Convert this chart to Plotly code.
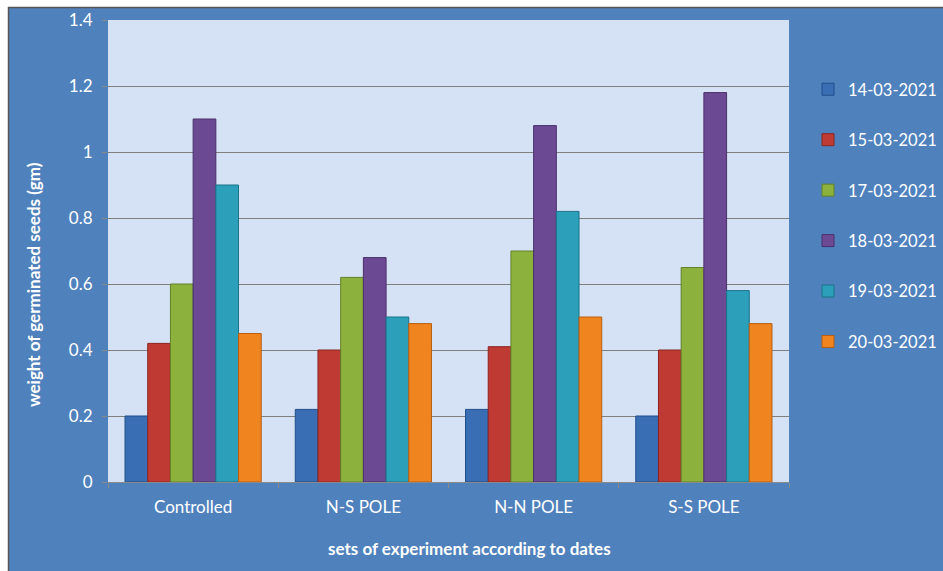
import plotly.graph_objects as go

categories = ["Controlled", "N-S POLE", "N-N POLE", "S-S POLE"]
dates = ["14-03-2021", "15-03-2021", "17-03-2021", "18-03-2021", "19-03-2021", "20-03-2021"]

w_14 = [0.20, 0.22, 0.22, 0.20]
w_15 = [0.42, 0.40, 0.41, 0.40]
w_17 = [0.60, 0.62, 0.70, 0.65]
w_18 = [1.10, 0.68, 1.08, 1.18]
w_19 = [0.90, 0.50, 0.82, 0.58]
w_20 = [0.45, 0.48, 0.50, 0.48]

series = [w_14, w_15, w_17, w_18, w_19, w_20]
fills = ["#3a6eb4", "#be3a33", "#8db13d", "#6c4a93", "#2c9fba", "#f0841f"]
edges = ["#1f4f8a", "#8c2420", "#62822a", "#4a2f6b", "#1b7389", "#b85e12"]

BG = "#4f81bd"
FONT = "Lato, 'Open Sans', sans-serif"

# canvas geometry (px) used to place paper-referenced decorations
W, H = 943, 571
ML, MR, MT, MB = 108, 154, 20, 89
PW, PH = W - ML - MR, H - MT - MB


def px(x):
    return (x - ML) / PW


def py(y):
    return (H - MB - y) / PH


fig = go.Figure()
for name, vals, fc, ec in zip(dates, series, fills, edges):
    fig.add_trace(go.Bar(
        x=categories, y=vals, name=name, legendgroup=name,
        marker=dict(color=fc, line=dict(color=ec, width=1)),
    ))

fig.update_layout(
    width=W, height=H,
    margin=dict(l=ML, r=MR, t=MT, b=MB, autoexpand=False),
    paper_bgcolor=BG,
    plot_bgcolor="#d5e1f4",
    barmode="group", bargap=0.2, bargroupgap=0.0,
    font=dict(family=FONT, color="white", size=17),
    legend=dict(
        x=px(808), y=py(72), xanchor="left", yanchor="top",
        font=dict(size=16.5, color="white"),
        tracegroupgap=26, itemwidth=30,
        bgcolor="rgba(0,0,0,0)",
    ),
    xaxis=dict(
        showgrid=False, ticks="outside", tickson="boundaries",
        ticklen=5, tickcolor="#8a8a8a", showline=True,
        linecolor="#8a8a8a", linewidth=1,
        tickfont=dict(size=17, color="white"),
        ticklabelstandoff=10,
    ),
    yaxis=dict(
        range=[0, 1.4], dtick=0.2, tickformat="~g",
        showgrid=True, gridcolor="#7f7f7f", gridwidth=1,
        zeroline=False, ticks="outside", ticklen=5, tickcolor="#8a8a8a",
        tickfont=dict(size=17, color="white"),
        ticklabelstandoff=6,
    ),
    annotations=[
        dict(text="<b>sets of experiment according to dates</b>",
             xref="paper", yref="paper", x=px(469), y=py(548),
             xanchor="center", yanchor="middle", showarrow=False,
             font=dict(size=17, color="white")),
        dict(text="<b>weight of germinated seeds (gm)</b>",
             xref="paper", yref="paper", x=px(33), y=py(285),
             xanchor="center", yanchor="middle", showarrow=False,
             textangle=-90, font=dict(size=17, color="white")),
    ],
    shapes=[
        # white page margin above and to the left of the chart frame
        dict(type="rect", xref="paper", yref="paper", layer="above",
             x0=px(-2), x1=px(W + 2), y0=py(7), y1=py(-2),
             fillcolor="white", line=dict(width=0)),
        dict(type="rect", xref="paper", yref="paper", layer="above",
             x0=px(-2), x1=px(8), y0=py(H + 2), y1=py(-2),
             fillcolor="white", line=dict(width=0)),
        # dark frame edge
        dict(type="line", xref="paper", yref="paper", layer="above",
             x0=px(8), x1=px(W + 2), y0=py(7.5), y1=py(7.5),
             line=dict(color="#555555", width=1.5)),
        dict(type="line", xref="paper", yref="paper", layer="above",
             x0=px(8.5), x1=px(8.5), y0=py(7), y1=py(H + 2),
             line=dict(color="#555555", width=1.5)),
    ],
)

fig.write_html("out.html")
